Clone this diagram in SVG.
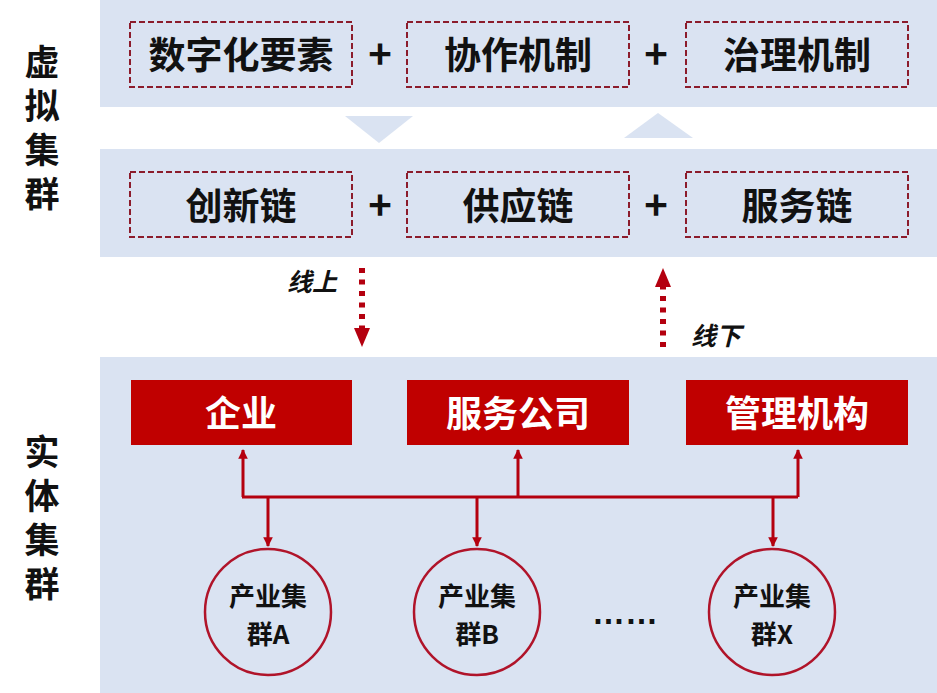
<svg xmlns="http://www.w3.org/2000/svg" width="937" height="693" viewBox="0 0 937 693">
<style>
text{font-family:"Noto Sans CJK SC","Liberation Sans",sans-serif;font-weight:700;text-anchor:middle;dominant-baseline:central}
.band{fill:#dae3f2}
.dash{fill:none;stroke:#8c1c2c;stroke-width:2;stroke-dasharray:6 3}
.t1{font-size:37px;fill:#111}
.plus{font-size:40px;fill:#111}
.red{fill:#c00000}
.t2{font-size:36px;fill:#fff}
.side{font-size:35px;fill:#111;writing-mode:vertical-rl;text-anchor:start;letter-spacing:9px;dominant-baseline:auto}
.circ{fill:none;stroke:#b0142a;stroke-width:2.5}
.t3{font-size:26px;fill:#111}
.lbl{font-size:25px;fill:#111;font-style:italic}
.conn{fill:none;stroke:#b4000f;stroke-width:3}
.dot{fill:none;stroke:#b4000f;stroke-width:6;stroke-dasharray:5 6.5}
.ell{font-family:"Liberation Sans",sans-serif;font-size:33px;fill:#111;dominant-baseline:alphabetic}
</style>
<defs>
<marker id="ah2" viewBox="0 0 10 10" refX="9" refY="5" markerWidth="3.2" markerHeight="3.2" orient="auto" markerUnits="strokeWidth"><path d="M0,0L10,5L0,10z" fill="#b4000f"/></marker>
</defs>
<rect width="937" height="693" fill="#fff"/>
<rect class="band" x="100" y="0" width="837" height="107"/>
<rect class="band" x="100" y="149" width="837" height="108"/>
<rect class="band" x="100" y="357" width="837" height="336"/>
<polygon class="band" points="345,116 413,116 379,143"/>
<polygon class="band" points="624,138 693,138 658,113"/>
<g id="side-virtual">
<text class="side" x="42" y="44">虚拟集群</text>
</g>
<g id="side-real">
<text class="side" x="42" y="434">实体集群</text>
</g>
<g id="n-digital"><rect class="dash" x="130" y="22" width="222" height="65"/><text class="t1" x="241" y="53">数字化要素</text></g>
<text class="plus" x="380" y="52">+</text>
<g id="n-collab"><rect class="dash" x="407" y="22" width="222" height="65"/><text class="t1" x="518" y="53">协作机制</text></g>
<text class="plus" x="656" y="52">+</text>
<g id="n-govern"><rect class="dash" x="686" y="22" width="222" height="65"/><text class="t1" x="797" y="53">治理机制</text></g>
<g id="n-innov"><rect class="dash" x="130" y="172" width="222" height="65"/><text class="t1" x="241" y="204">创新链</text></g>
<text class="plus" x="380" y="203">+</text>
<g id="n-supply"><rect class="dash" x="407" y="172" width="222" height="65"/><text class="t1" x="518" y="204">供应链</text></g>
<text class="plus" x="656" y="203">+</text>
<g id="n-service"><rect class="dash" x="686" y="172" width="222" height="65"/><text class="t1" x="797" y="204">服务链</text></g>
<g id="n-ent"><rect class="red" x="131" y="380" width="221" height="65"/><text class="t2" x="241" y="411">企业</text></g>
<g id="n-svc"><rect class="red" x="407" y="380" width="222" height="65"/><text class="t2" x="518" y="411">服务公司</text></g>
<g id="n-mgmt"><rect class="red" x="686" y="380" width="222" height="65"/><text class="t2" x="797" y="411">管理机构</text></g>
<g id="n-ca"><circle class="circ" cx="268" cy="612" r="63"/><text class="t3" x="268" y="594">产业集</text><text class="t3" x="268" y="632">群A</text></g>
<g id="n-cb"><circle class="circ" cx="477" cy="612" r="63"/><text class="t3" x="477" y="594">产业集</text><text class="t3" x="477" y="632">群B</text></g>
<g id="n-cx"><circle class="circ" cx="772" cy="612" r="63"/><text class="t3" x="772" y="594">产业集</text><text class="t3" x="772" y="632">群X</text></g>
<text class="ell" x="625" y="624">……</text>
<g id="connectors">
<line class="dot" x1="362" y1="268" x2="362" y2="330"/>
<polygon points="354,328 370,328 362,347" fill="#b4000f"/>
<line class="dot" x1="663" y1="347" x2="663" y2="284"/>
<polygon points="655,287 671,287 663,268" fill="#b4000f"/>
<polyline class="conn" points="242,497 798,497"/>
<line class="conn" x1="243" y1="497" x2="243" y2="450" marker-end="url(#ah2)"/>
<line class="conn" x1="518" y1="497" x2="518" y2="450" marker-end="url(#ah2)"/>
<line class="conn" x1="798" y1="497" x2="798" y2="450" marker-end="url(#ah2)"/>
<line class="conn" x1="268" y1="497" x2="268" y2="546" marker-end="url(#ah2)"/>
<line class="conn" x1="477" y1="497" x2="477" y2="546" marker-end="url(#ah2)"/>
<line class="conn" x1="773" y1="497" x2="773" y2="546" marker-end="url(#ah2)"/>
</g>
<text class="lbl" x="312" y="280">线上</text>
<text class="lbl" x="716" y="334">线下</text>
</svg>
